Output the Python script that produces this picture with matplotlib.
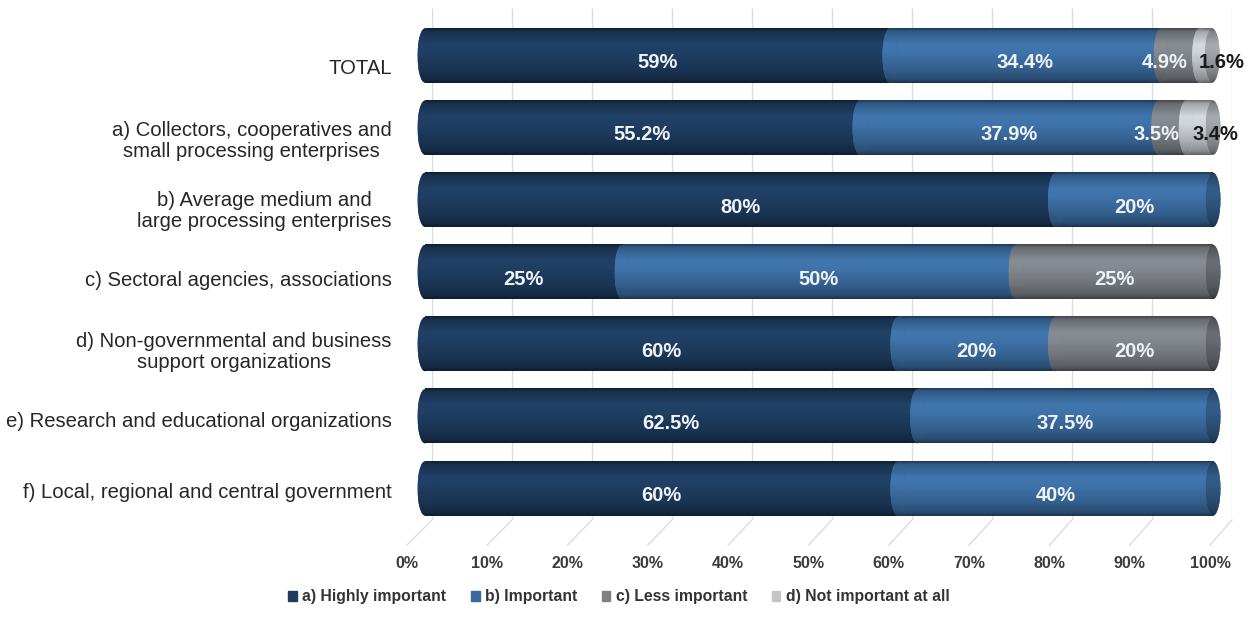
import numpy as np
import matplotlib
matplotlib.use("Agg")
import matplotlib.pyplot as plt
import matplotlib.colors as mcolors
from matplotlib.patches import Ellipse

# ---- data -------------------------------------------------------------
categories = [
    "TOTAL",
    "a) Collectors, cooperatives and\nsmall processing enterprises",
    "b) Average medium and\nlarge processing enterprises",
    "c) Sectoral agencies, associations",
    "d) Non-governmental and business\nsupport organizations",
    "e) Research and educational organizations",
    "f) Local, regional and central government",
]
highly_important = [59, 55.2, 80, 25, 60, 62.5, 60]
important = [34.4, 37.9, 20, 50, 20, 37.5, 40]
less_important = [4.9, 3.5, 0, 25, 20, 0, 0]
not_important = [1.6, 3.4, 0, 0, 0, 0, 0]
series_names = ["a) Highly important", "b) Important",
                "c) Less important", "d) Not important at all"]
tick_values = list(range(0, 101, 10))
tick_labels = [f"{v}%" for v in tick_values]

# ---- style ------------------------------------------------------------
series_colors = ["#1d3a5c", "#3a6a9d", "#7a7e85", "#bfc3c9"]
legend_colors = ["#1f3b60", "#3b68a0", "#808080", "#c4c4c4"]
label_colors = ["#eef3f8", "#eef3f8", "#eef3f8", "#1a1a1a"]
grid_color = "#dcdcdc"
NARROW = ["Liberation Sans Narrow", "Liberation Sans", "DejaVu Sans"]
REGULAR = ["Liberation Sans", "DejaVu Sans"]

W, H = 1254, 621
fig = plt.figure(figsize=(W / 100, H / 100), dpi=100)
fig.patch.set_facecolor("white")


def box(x0, x1, y0, y1):
    """Axes rectangle from pixel edges (origin at the top-left)."""
    return [x0 / W, 1 - y1 / H, (x1 - x0) / W, (y1 - y0) / H]


# back wall with vertical gridlines
wall_ax = fig.add_axes(box(432, 1232, 8, 520), zorder=0)
wall_ax.set_xlim(0, 100)
wall_ax.set_ylim(0, 1)
wall_ax.vlines(tick_values, 0, 1, color=grid_color, lw=1)
wall_ax.axis("off")

# floor: slanted gridlines and the percentage axis
floor_ax = fig.add_axes(box(407, 1210, 520, 545), zorder=1)
floor_ax.set_xlim(0, 100)
floor_ax.set_ylim(0, 1)
floor_ax.patch.set_visible(False)
for s in floor_ax.spines.values():
    s.set_visible(False)
floor_ax.set_yticks([])
floor_ax.set_xticks(tick_values, tick_labels)
floor_ax.tick_params(axis="x", length=0, pad=8)
for lab in floor_ax.get_xticklabels():
    lab.set_fontfamily(NARROW)
    lab.set_fontweight("bold")
    lab.set_fontsize(11.5)
    lab.set_color("#3c3c3c")
for v in tick_values:
    back = wall_ax.transData.transform((v, 0))
    back_x = floor_ax.transData.inverted().transform(back)[0]
    floor_ax.plot([v, back_x], [0, 1], color=grid_color, lw=1, clip_on=False)

# category labels on the front plane
front_ax = fig.add_axes(box(407, 1210, 31.75, 525.25), zorder=1)
front_ax.patch.set_visible(False)
for s in front_ax.spines.values():
    s.set_visible(False)
front_ax.set_xticks([])
front_ax.set_ylim(len(categories) - 0.5, -0.5)
front_ax.set_yticks(range(len(categories)), categories)
front_ax.tick_params(axis="y", length=0, pad=11)
for lab in front_ax.get_yticklabels():
    lab.set_fontfamily(REGULAR)
    lab.set_fontsize(14.6)
    lab.set_color("#262626")
    lab.set_multialignment("center")
    lab.set_linespacing(1.15)

# cylinders
bar_ax = fig.add_axes(box(409.24, 1228.76, 19.42, 524.58), zorder=2)
bar_ax.patch.set_visible(False)
bar_ax.axis("off")

bar_h = 0.75
cap_w = 1.9
t = np.linspace(0, 1, 96)
shade = np.interp(t, [0, 0.06, 0.3, 0.45, 0.75, 0.93, 1.0],
                  [0.55, 0.85, 1.12, 1.08, 0.9, 0.72, 0.5])


def gradient(color, dim=1.0):
    rgb = np.array(mcolors.to_rgb(color)) * dim
    return np.clip(rgb[None, :] * shade[:, None], 0, 1)[:, None, :]


series = [highly_important, important, less_important, not_important]
y = np.arange(len(categories))
left = np.zeros(len(categories))
for k, vals in enumerate(series):
    vals = np.asarray(vals, dtype=float)
    z = 2 + 3 * k
    bar_ax.barh(y, vals, left=left, height=bar_h,
                color=series_colors[k], zorder=z, label=series_names[k])
    img = gradient(series_colors[k])
    for yi, li, vi in zip(y, left, vals):
        if vi <= 0:
            continue
        bar_ax.imshow(img, extent=(li, li + vi, yi + bar_h / 2, yi - bar_h / 2),
                      origin="upper", aspect="auto", zorder=z + 0.1,
                      interpolation="bilinear")
        cap = Ellipse((li, yi), cap_w, bar_h, facecolor=series_colors[k],
                      edgecolor="none", zorder=z + 1)
        bar_ax.add_patch(cap)
        im = bar_ax.imshow(img, extent=(li - cap_w / 2, li + cap_w / 2,
                                        yi + bar_h / 2, yi - bar_h / 2),
                           origin="upper", aspect="auto", zorder=z + 1.1,
                           interpolation="bilinear")
        im.set_clip_path(cap)
    left = left + vals

# right-hand end faces, a darker shade of the last segment
for yi in y:
    vals = [s[yi] for s in series]
    last = max(i for i, v in enumerate(vals) if v > 0)
    end = sum(vals)
    face = Ellipse((end, yi), cap_w, bar_h, facecolor=series_colors[last],
                   edgecolor="none", zorder=30)
    bar_ax.add_patch(face)
    im = bar_ax.imshow(gradient(series_colors[last], dim=0.78),
                       extent=(end - cap_w / 2, end + cap_w / 2,
                               yi + bar_h / 2, yi - bar_h / 2),
                       origin="upper", aspect="auto", zorder=30.1,
                       interpolation="bilinear")
    im.set_clip_path(face)

# value labels
left = np.zeros(len(categories))
for k, vals in enumerate(series):
    for yi, li, vi in zip(y, left, vals):
        if vi <= 0:
            continue
        x = li + vi / 2
        if vi < 6:
            x += -2.0 if k == 2 else 2.0
        bar_ax.text(x, yi + 0.1, f"{vi:g}%", ha="center", va="center",
                    color=label_colors[k], fontsize=14.5, fontweight="bold",
                    family=NARROW, zorder=40)
    left = left + np.asarray(vals, dtype=float)

bar_ax.set_xlim(-2, 102)
bar_ax.set_ylim(len(categories) - 0.5, -0.5)

# legend
handles = [plt.Rectangle((0, 0), 1, 1, color=c) for c in legend_colors]
leg = fig.legend(handles, series_names, loc="center",
                 bbox_to_anchor=(619 / W, 1 - 597 / H), ncol=4, frameon=False,
                 handlelength=0.55, handleheight=0.55, handletextpad=0.35,
                 columnspacing=1.55,
                 prop={"family": NARROW, "weight": "bold", "size": 11.3})
for txt in leg.get_texts():
    txt.set_color("#333333")

fig.savefig("out.png", dpi=100, facecolor="white")
